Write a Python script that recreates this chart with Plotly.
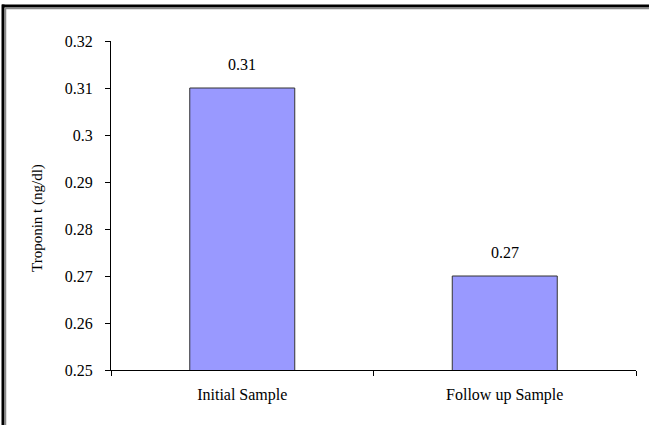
import plotly.graph_objects as go

categories = ["Initial Sample", "Follow up Sample"]
values = [0.31, 0.27]
value_labels = ["0.31", "0.27"]
tick_vals = [0.25, 0.26, 0.27, 0.28, 0.29, 0.30, 0.31, 0.32]
tick_text = ["0.25", "0.26", "0.27", "0.28", "0.29", "0.3", "0.31", "0.32"]

W, H = 649, 425
L, R, T, B = 111, 13, 41, 55
pw, ph = W - L - R, H - T - B

def px(x):
    return (x - L) / pw

def py(y):
    return 1 - (y - T) / ph

FONT = "Liberation Serif, Times New Roman, serif"
FS = 16

fig = go.Figure()
fig.add_trace(go.Bar(
    x=categories, y=values, width=0.4,
    marker=dict(color="#9999FF", line=dict(color="#333333", width=1)),
    hoverinfo="skip",
))

for c, v, t in zip(categories, values, value_labels):
    fig.add_annotation(x=c, y=v, text=t, showarrow=False, yanchor="bottom",
                       yshift=13, font=dict(family=FONT, size=FS, color="black"))

fig.add_annotation(xref="paper", yref="paper", x=px(37), y=py(218),
                   xanchor="center", yanchor="middle",
                   text="Troponin t (ng/dl)", textangle=-90, showarrow=False,
                   font=dict(family=FONT, size=15, color="black"))

# outer frame (black + grey double line) on top and left
shapes = [
    dict(type="line", xref="paper", yref="paper", x0=px(2), x1=px(W + 5), y0=py(6), y1=py(6),
         line=dict(color="black", width=3)),
    dict(type="line", xref="paper", yref="paper", x0=px(5), x1=px(W + 5), y0=py(8.5), y1=py(8.5),
         line=dict(color="#888888", width=1.5)),
    dict(type="line", xref="paper", yref="paper", x0=px(3), x1=px(3), y0=py(4.5), y1=py(H + 5),
         line=dict(color="black", width=3)),
    dict(type="line", xref="paper", yref="paper", x0=px(5.5), x1=px(5.5), y0=py(7.5), y1=py(H + 5),
         line=dict(color="#888888", width=1.5)),
]

fig.update_layout(
    width=W, height=H,
    margin=dict(l=L, r=R, t=T, b=B),
    paper_bgcolor="white", plot_bgcolor="white",
    showlegend=False,
    shapes=shapes,
    font=dict(family=FONT, size=FS, color="black"),
)
fig.update_xaxes(
    showline=True, linecolor="black", linewidth=1,
    ticks="outside", ticklen=5, tickcolor="black",
    tickson="boundaries", showgrid=False,
    tickfont=dict(family=FONT, size=FS, color="black"),
    ticklabelstandoff=10,
)
fig.update_yaxes(
    range=[0.25, 0.32], showline=True, linecolor="black", linewidth=1,
    ticks="outside", ticklen=5, tickcolor="black",
    tickvals=tick_vals, ticktext=tick_text, showgrid=False, zeroline=False,
    tickfont=dict(family=FONT, size=FS, color="black"),
    ticklabelstandoff=9,
)

fig.write_html("out.html", config={"displayModeBar": False},
               post_script="document.body.style.margin='0px';document.body.style.padding='0px';")
